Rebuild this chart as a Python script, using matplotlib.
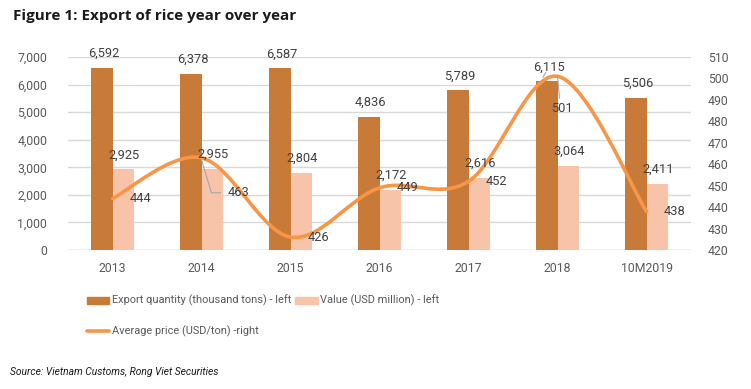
import matplotlib
matplotlib.use("Agg")
import matplotlib.pyplot as plt
from matplotlib.path import Path
from matplotlib.patches import PathPatch
from matplotlib.lines import Line2D
from matplotlib.transforms import offset_copy
import numpy as np

# %%
years = ["2013", "2014", "2015", "2016", "2017", "2018", "10M2019"]
quantity = [6592, 6378, 6587, 4836, 5789, 6115, 5506]
value = [2925, 2955, 2804, 2172, 2616, 3064, 2411]
price = [444, 463, 426, 449, 452, 501, 438]

DARK = "#C87A38"
LIGHT = "#F8C4A9"
LINE = "#F79646"
TXT = "#404040"
TICK = "#595959"
LEAD = "#A6A6A6"
plt.rcParams["font.family"] = ["Roboto", "DejaVu Sans"]

# %%
fig = plt.figure(figsize=(7.51, 3.89), dpi=100)
ax = fig.add_axes([68 / 751, 1 - 250 / 389, 623 / 751, 193 / 389])
ax2 = ax.twinx()

x = np.arange(len(years))
w = 0.24
ax.bar(x - w / 2, quantity, w, color=DARK, zorder=2)
ax.bar(x + w / 2, value, w, color=LIGHT, zorder=2)

ax.set_xlim(-0.5, len(years) - 0.5)
ax.set_ylim(0, 7000)
ax.set_yticks(range(0, 7001, 1000))
ax.set_yticklabels([f"{v:,}" for v in range(0, 7001, 1000)])
ax.grid(axis="y", color="#D9D9D9", linewidth=1, zorder=0)
ax.set_axisbelow(True)
ax.set_xticks(x)
ax.set_xticklabels(years)
ax2.set_ylim(420, 510)
ax2.set_yticks(range(420, 511, 10))

for a in (ax, ax2):
    for s in a.spines.values():
        s.set_visible(False)
    a.tick_params(length=0, labelsize=8.8, colors=TICK)
ax.tick_params(axis="y", pad=15)
ax.tick_params(axis="x", pad=9)
ax2.tick_params(axis="y", pad=12)
ax.axhline(0, color="#D9D9D9", linewidth=1, zorder=1)

# smoothed line (Excel style bezier through the points)
pts = np.column_stack([x, price]).astype(float)
ext = np.vstack([pts[0], pts, pts[-1]])
verts = [tuple(pts[0])]
codes = [Path.MOVETO]
for i in range(len(pts) - 1):
    p0, p1, p2, p3 = ext[i], ext[i + 1], ext[i + 2], ext[i + 3]
    c1 = p1 + (p2 - p0) / 6
    c2 = p2 - (p3 - p1) / 6
    verts += [tuple(c1), tuple(c2), tuple(p2)]
    codes += [Path.CURVE4] * 3
ax2.add_patch(PathPatch(Path(verts, codes), facecolor="none", edgecolor=LINE,
                        linewidth=2.6, capstyle="round", zorder=3))

# labels
for i in range(len(years)):
    ax2.annotate(f"{quantity[i]:,}", (x[i] - w / 2, quantity[i]), xycoords=ax.transData,
                 xytext=(2, 8), textcoords="offset pixels", ha="center", va="bottom",
                 fontsize=9.3, color=TXT, zorder=5)
    ax2.annotate(f"{value[i]:,}", (x[i] + w / 2, value[i]), xycoords=ax.transData,
                 xytext=(1, 8), textcoords="offset pixels", ha="center", va="bottom",
                 fontsize=9.3, color=TXT, zorder=5)

offsets = {1: (37, -35), 5: (4, -32)}
for i in range(len(years)):
    dx, dy = offsets.get(i, (28, 0))
    ax2.annotate(str(price[i]), (x[i], price[i]), xytext=(dx, dy),
                 textcoords="offset pixels", ha="center", va="center",
                 fontsize=9.3, color=TXT, zorder=5)


def leader(xd, yd, p, q, base=ax2):
    # gray line between two pixel offsets from a data point
    ta = offset_copy(base.transData, fig=fig, x=p[0], y=p[1], units="dots")
    tb = offset_copy(base.transData, fig=fig, x=q[0], y=q[1], units="dots")
    ax2.annotate("", xy=(xd, yd), xycoords=ta, xytext=(xd, yd), textcoords=tb,
                 arrowprops=dict(arrowstyle="-", color=LEAD, lw=0.8,
                                 shrinkA=0, shrinkB=0), zorder=4)


leader(x[1], price[1], (0, -2), (10, -35))
leader(x[1], price[1], (10, -35), (19, -35))
leader(x[5], price[5], (0, 1), (2, -22))
leader(x[5] - w / 2, quantity[5], (-4, 4), (-1, 9), base=ax)

# legend
handles = [
    plt.Rectangle((0, 0), 1, 1, color=DARK),
    Line2D([0], [0], color=LINE, linewidth=2.6, solid_capstyle="round"),
    plt.Rectangle((0, 0), 1, 1, color=LIGHT),
]
labels = ["Export quantity (thousand tons) - left", "Average price (USD/ton) -right",
          "Value (USD million) - left"]
fig.legend(handles, labels, ncol=2, loc="upper left", bbox_to_anchor=(87 / 751, 1 - 295 / 389),
           frameon=False, fontsize=7.9, handlelength=2.05, handleheight=0.6, handletextpad=0.2,
           columnspacing=0.4, labelspacing=1.75, borderpad=0, borderaxespad=0,
           labelcolor=TICK)

fig.text(13 / 751, 1 - 16 / 389, "Figure 1: Export of rice year over year",
         fontsize=11, fontweight="bold", color="#1a1a1a", va="center", ha="left",
         family=["Open Sans", "DejaVu Sans"])
fig.text(10 / 751, 1 - 372 / 389, "Source: Vietnam Customs, Rong Viet Securities",
         fontsize=7.4, fontstyle="italic", color="#1a1a1a", va="center", ha="left")

fig.savefig("out.png", dpi=100)
